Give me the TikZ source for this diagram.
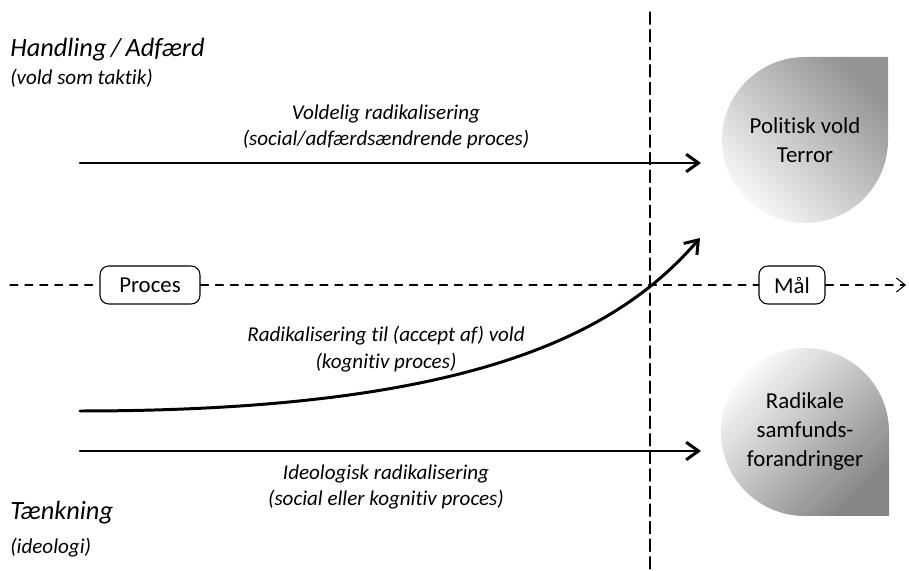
\documentclass[tikz,border=0pt]{standalone}
\usepackage{fontspec}
\setmainfont{Carlito}[Ligatures=NoCommon]
\usetikzlibrary{arrows.meta}
\begin{document}
\begin{tikzpicture}[x=0.02cm, y=0.02cm, >={Straight Barb[length=7pt,width=10pt]}, line join=round, line cap=round,
    akse/.style={line width=0.6pt, dash pattern=on 4.5pt off 4pt},
    pil/.style={->, line width=1.7pt},
    boks/.style={draw, line width=0.6pt, fill=white, rounded corners=5pt, minimum height=0.76cm, font=\fontsize{13}{16}\selectfont},
    etiket/.style={align=center, font=\itshape\fontsize{12}{15}\selectfont},
    overskrift/.style={anchor=west, inner sep=0pt, font=\itshape\fontsize{15}{18}\selectfont},
    underskrift/.style={anchor=west, inner sep=0pt, font=\itshape\fontsize{12}{15}\selectfont},
    maal/.style={align=center, font=\fontsize{13}{16.5}\selectfont}]
    \useasboundingbox (0,0) rectangle (909,571);
    % dråber
    \shade[top color=black!42, middle color=black!10, bottom color=black!3, shading angle=-45]
        (805,514) -- (888,514) -- (888,431) arc[start angle=0, end angle=-270, radius=83] -- cycle;
    \shade[bottom color=black!48, middle color=black!10, top color=black!2, shading angle=45]
        (889,55) -- (889,139) arc[start angle=0, end angle=270, radius=84] -- cycle;
    \node[maal] (terror) at (805,431) {Politisk vold\\Terror};
    \node[maal] (samfund) at (805,139) {Radikale\\samfunds-\\forandringer};
    % akser
    \coordinate (top) at (650,559);
    \coordinate (bund) at (650,0);
    \draw[akse, dash pattern=on 7pt off 3pt] (top) -- (bund);
    \coordinate (venstre) at (10,286);
    \coordinate (hoejre) at (906,286);
    \node[boks, minimum width=2cm] (proces) at (150,286) {Proces};
    \node[boks, minimum width=1.32cm] (maalboks) at (792,286) {Mål};
    \draw[akse] (venstre) -- (proces);
    \draw[akse] (proces) -- (maalboks);
    \draw[akse, -{Straight Barb[length=5pt,width=8pt]}] (maalboks) -- (hoejre);
    % pile
    \coordinate (h0) at (80,408);
    \coordinate (h1) at (701,408);
    \coordinate (k0) at (80,160);
    \coordinate (k1) at (700,333);
    \coordinate (t0) at (80,120);
    \coordinate (t1) at (701,120);
    \draw[pil] (h0) -- (h1);
    \draw[pil] (k0) .. controls (480,160) and (620,241) .. (k1);
    \draw[pil] (t0) -- (t1);
    % tekster
    \node[etiket] (voldelig) at (386,444) {Voldelig radikalisering\\(social/adfærdsændrende proces)};
    \node[etiket] (accept) at (386,222) {Radikalisering til (accept af) vold\\(kognitiv proces)};
    \node[etiket] (ideologisk) at (386,84) {Ideologisk radikalisering\\(social eller kognitiv proces)};
    \node[overskrift] (handling) at (10,521) {Handling\,/\,Adfærd};
    \node[underskrift] (taktik) at (10,493) {(vold som taktik)};
    \node[overskrift] (taenkning) at (10,58) {Tænkning};
    \node[underskrift] (ideologi) at (10,23) {(ideologi)};
\end{tikzpicture}
\end{document}
